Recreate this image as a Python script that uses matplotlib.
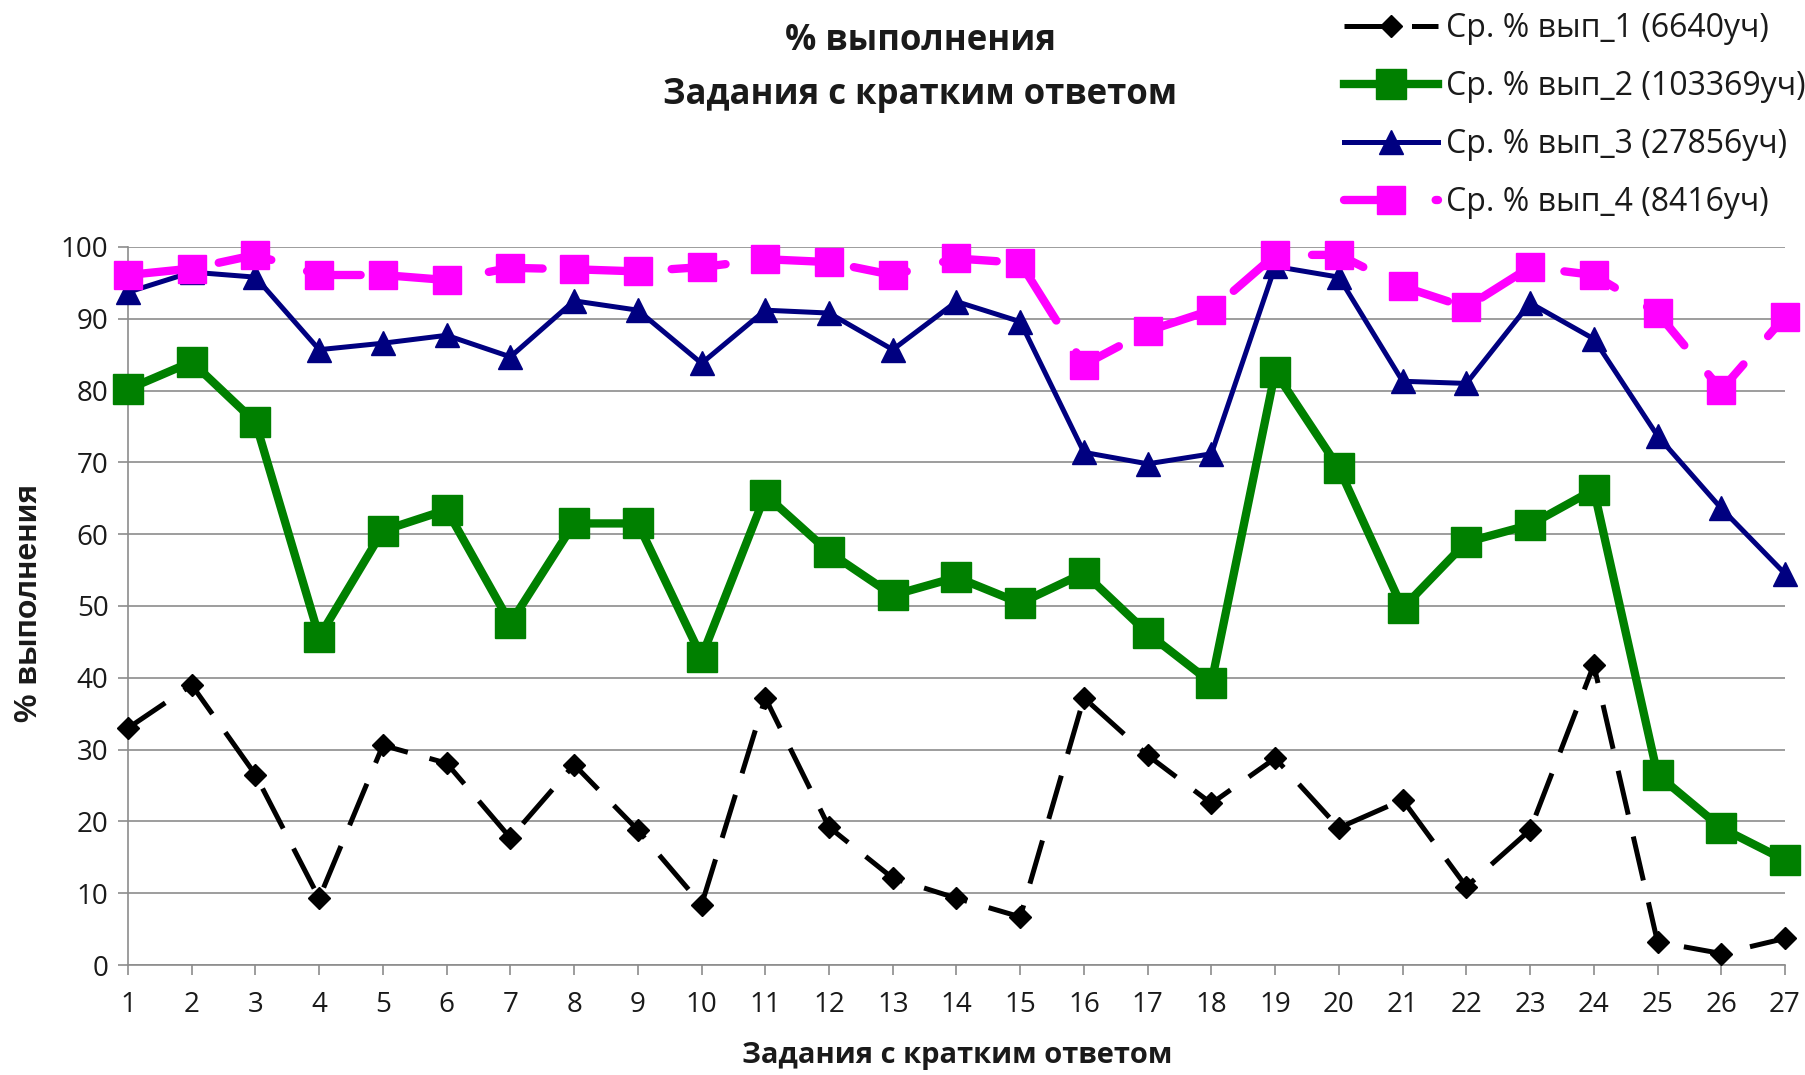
"""% выполнения по заданиям с кратким ответом — четыре группы участников."""
import numpy as np
import matplotlib
matplotlib.use("Agg")
import matplotlib.pyplot as plt

plt.rcParams["font.family"] = ["Open Sans", "DejaVu Sans"]

# ── data ─────────────────────────────────────────────────────────────────
tasks = list(range(1, 28))

vyp_1 = [33, 39, 26.5, 9.3, 30.6, 28.1, 17.7, 27.9, 18.8, 8.4,
         37.2, 19.2, 12.1, 9.3, 6.7, 37.2, 29.2, 22.5, 28.8, 19.1,
         23.0, 10.9, 18.8, 41.8, 3.2, 1.6, 3.7]
vyp_2 = [80.2, 84.0, 75.6, 45.7, 60.5, 63.4, 47.6, 61.5, 61.5, 42.9,
         65.5, 57.5, 51.5, 54.0, 50.4, 54.6, 46.2, 39.3, 82.6, 69.2,
         49.7, 58.9, 61.3, 66.2, 26.5, 19.1, 14.6]
vyp_3 = [93.7, 96.5, 95.8, 85.7, 86.6, 87.7, 84.7, 92.5, 91.2, 83.8,
         91.2, 90.8, 85.7, 92.4, 89.6, 71.4, 69.8, 71.2, 97.3, 95.8,
         81.3, 81.0, 92.2, 87.2, 73.7, 63.6, 54.5]
vyp_4 = [96.1, 97.0, 98.9, 96.1, 96.1, 95.4, 97.1, 96.9, 96.6, 97.2,
         98.3, 97.9, 96.1, 98.4, 97.8, 83.6, 88.3, 91.2, 98.9, 98.9,
         94.5, 91.6, 97.2, 96.1, 90.8, 80.1, 90.3]

labels = ["Ср. % вып_1 (6640уч)", "Ср. % вып_2 (103369уч)",
          "Ср. % вып_3 (27856уч)", "Ср. % вып_4 (8416уч)"]

# ── plot ─────────────────────────────────────────────────────────────────
fig = plt.figure(figsize=(18.06, 10.75), dpi=100)
ax = fig.add_axes([128 / 1806, 1 - 965 / 1075, (1785 - 128) / 1806, (965 - 247) / 1075])

GRID = "#8c8c8c"
TXT = "#1a1a1a"

l1, = ax.plot(tasks, vyp_1, color="black", lw=3.6, marker="D", ms=11,
              dashes=(9, 4.5), dash_capstyle="butt", clip_on=False, zorder=3)
l2, = ax.plot(tasks, vyp_2, color="#008000", lw=6, marker="s", ms=22,
              clip_on=False, zorder=4)
l3, = ax.plot(tasks, vyp_3, color="#000080", lw=3.6, marker="^", ms=17,
              clip_on=False, zorder=5)
l4, = ax.plot(tasks, vyp_4, color="#ff00ff", lw=6, marker="s", ms=20,
              dashes=(6.5, 4.5), dash_capstyle="round", clip_on=False, zorder=6)

ax.set_xlim(1, 27)
ax.set_ylim(0, 100)
ax.set_xticks(tasks)
ax.set_yticks(np.arange(0, 101, 10))
ax.tick_params(axis="both", labelsize=20, color=GRID, length=7, width=1.2,
               direction="out", labelcolor=TXT)
ax.tick_params(axis="x", pad=12)
ax.tick_params(axis="y", pad=7)
ax.grid(axis="y", color=GRID, lw=1.2)
ax.set_axisbelow(True)
for side in ("top", "right"):
    ax.spines[side].set_visible(False)
for side in ("left", "bottom"):
    ax.spines[side].set_color(GRID)
    ax.spines[side].set_linewidth(1.2)

fig.text(921 / 1806, 1 - 41 / 1075, "% выполнения", ha="center", va="center",
         fontsize=25, fontweight="bold", color=TXT)
fig.text(920 / 1806, 1 - 95 / 1075, "Задания с кратким ответом", ha="center",
         va="center", fontsize=25, fontweight="bold", color=TXT)
fig.text(957 / 1806, 1 - 1055 / 1075, "Задания с кратким ответом", ha="center",
         va="center", fontsize=21, fontweight="bold", color=TXT)
fig.text(29 / 1806, 1 - 603 / 1075, "% выполнения", ha="center", va="center",
         rotation=90, fontsize=23, fontweight="bold", color=TXT,
         family=["Liberation Sans", "DejaVu Sans"])

fig.legend([l1, l2, l3, l4], labels, loc="upper left",
           bbox_to_anchor=(1344 / 1806, 1 - 12 / 1075), frameon=False,
           fontsize=23, numpoints=1, handlelength=2.95, handletextpad=0.25,
           labelspacing=0.78, borderaxespad=0, borderpad=0, labelcolor=TXT)

fig.savefig("out.png", dpi=100)
